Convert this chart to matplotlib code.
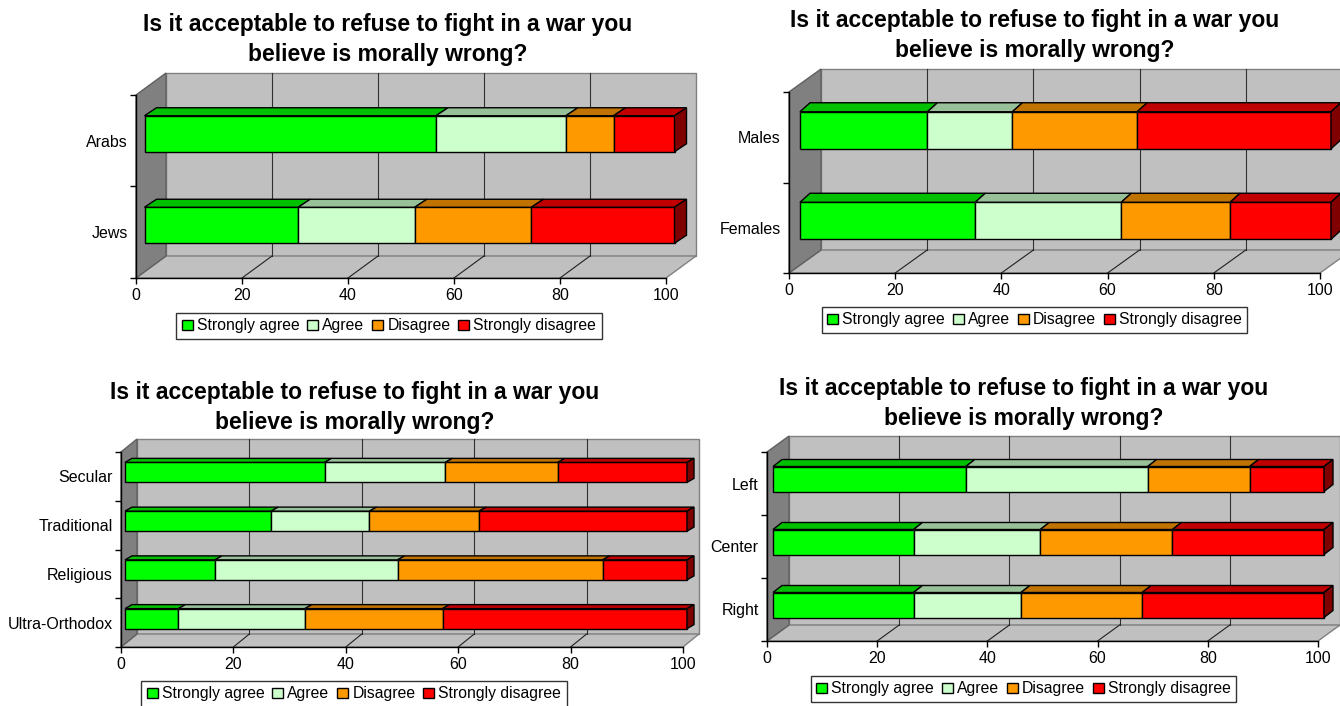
import numpy as np
import matplotlib
matplotlib.use("Agg")
import matplotlib.pyplot as plt
from matplotlib.patches import Polygon, Patch

plt.rcParams['font.family'] = ['Liberation Sans', 'DejaVu Sans']

W, H = 1340, 706

series_names = ["Strongly agree", "Agree", "Disagree", "Strongly disagree"]
front_colors = ["#00FF00", "#CCFFCC", "#FF9900", "#FF0000"]
top_colors = ["#00C000", "#99C199", "#C07300", "#C00000"]
end_color = "#800000"

title_line1 = "Is it acceptable to refuse to fight in a war you"
title_line2 = "believe is morally wrong?"
x_ticks = [0, 20, 40, 60, 80, 100]

# Arabs / Jews (percent)
ethnic_groups = ["Arabs", "Jews"]
ethnic_strongly_agree = [55, 29]
ethnic_agree = [24.5, 22]
ethnic_disagree = [9, 22]
ethnic_strongly_disagree = [11.5, 27]

# Males / Females (percent)
sex_groups = ["Males", "Females"]
sex_strongly_agree = [24, 33]
sex_agree = [16, 27.5]
sex_disagree = [23.5, 20.5]
sex_strongly_disagree = [36.5, 19]

# Religiosity (percent)
religion_groups = ["Secular", "Traditional", "Religious", "Ultra-Orthodox"]
religion_strongly_agree = [35.5, 26, 16, 9.5]
religion_agree = [21.5, 17.5, 32.5, 22.5]
religion_disagree = [20, 19.5, 36.5, 24.5]
religion_strongly_disagree = [23, 37, 15, 43.5]

# Political camp (percent)
politics_groups = ["Left", "Center", "Right"]
politics_strongly_agree = [35, 25.5, 25.5]
politics_agree = [33, 23, 19.5]
politics_disagree = [18.5, 24, 22]
politics_strongly_disagree = [13.5, 27.5, 33]

TITLE_SIZE = 16.5
LABEL_SIZE = 11.5
LEGEND_SIZE = 11.3

fig = plt.figure(figsize=(W / 100, H / 100), dpi=100)
fig.patch.set_facecolor("white")


def px_axes(left, top, right, bottom):
    return fig.add_axes([left / W, 1 - bottom / H, (right - left) / W, (bottom - top) / H])


def draw_panel(frame, wall, bar_shift, bar_depth, bar_px, groups, columns,
               title_x, title_ys, legend_anchor):
    left, top, right, bottom = frame
    ax = px_axes(*frame)
    n = len(groups)
    ux = (right - left) / 100.0
    uy = (bottom - top) / n
    Dx, Dy = wall[0] / ux, wall[1] / uy
    sx, sy = bar_shift[0] / ux, bar_shift[1] / uy
    bx, by = bar_depth[0] / ux, bar_depth[1] / uy
    h = bar_px / uy
    y0, y1 = -0.5, n - 0.5
    ax.set_xlim(0, 100)
    ax.set_ylim(y0, y1)
    ax.patch.set_visible(False)
    for s in ["top", "right"]:
        ax.spines[s].set_visible(False)
    for s in ["left", "bottom"]:
        ax.spines[s].set_linewidth(1.0)
        ax.spines[s].set_zorder(3)

    common = dict(closed=True, clip_on=False, lw=1.0)
    # back wall, floor and side wall
    ax.add_patch(Polygon([(Dx, y0 + Dy), (100 + Dx, y0 + Dy), (100 + Dx, y1 + Dy), (Dx, y1 + Dy)],
                         fc="#C0C0C0", ec="#808080", zorder=0.5, **common))
    ax.add_patch(Polygon([(0, y0), (100, y0), (100 + Dx, y0 + Dy), (Dx, y0 + Dy)],
                         fc="#C0C0C0", ec="#808080", zorder=0.6, **common))
    ax.add_patch(Polygon([(0, y0), (Dx, y0 + Dy), (Dx, y1 + Dy), (0, y1)],
                         fc="#808080", ec="#606060", zorder=0.7, **common))
    # gridlines on the wall and the floor
    for v in x_ticks[1:-1]:
        ax.plot([v + Dx, v + Dx], [y0 + Dy, y1 + Dy], color="#303030", lw=0.8,
                clip_on=False, zorder=0.8)
        ax.plot([v, v + Dx], [y0, y0 + Dy], color="#202020", lw=0.8,
                clip_on=False, zorder=0.8)

    # stacked 3D bars
    ypos = np.arange(n)[::-1].astype(float)
    vals = np.array(columns, dtype=float)
    lefts = np.vstack([np.zeros(n), np.cumsum(vals, axis=0)[:-1]])
    for k in range(len(vals)):
        ax.barh(ypos + sy, vals[k], left=lefts[k] + sx, height=h,
                color=front_colors[k], edgecolor="black", linewidth=1.0,
                clip_on=False, zorder=2)
        for j in range(n):
            x0 = lefts[k][j] + sx
            x1 = x0 + vals[k][j]
            yt = ypos[j] + sy + h / 2
            ax.add_patch(Polygon([(x0, yt), (x1, yt), (x1 + bx, yt + by), (x0 + bx, yt + by)],
                                 fc=top_colors[k], ec="black", zorder=2, **common))
    ends = lefts[-1] + vals[-1] + sx
    for j in range(n):
        yb = ypos[j] + sy - h / 2
        yt = ypos[j] + sy + h / 2
        ax.add_patch(Polygon([(ends[j], yb), (ends[j], yt), (ends[j] + bx, yt + by), (ends[j] + bx, yb + by)],
                             fc=end_color, ec="black", zorder=2, **common))

    # axes ticks and labels
    ax.set_yticks(ypos)
    ax.set_yticklabels(groups, fontsize=LABEL_SIZE)
    ax.set_yticks(np.arange(n + 1) - 0.5, minor=True)
    ax.tick_params(axis="y", which="major", length=0, pad=6)
    ax.tick_params(axis="y", which="minor", length=4, width=1, direction="out")
    ax.set_xticks(x_ticks)
    ax.tick_params(axis="x", length=4, width=1, direction="out", pad=3, labelsize=LABEL_SIZE)

    # title
    fig.text(title_x / W, 1 - title_ys[0] / H, title_line1, ha="center", va="center",
             fontsize=TITLE_SIZE, fontweight="bold")
    fig.text(title_x / W, 1 - title_ys[1] / H, title_line2, ha="center", va="center",
             fontsize=TITLE_SIZE, fontweight="bold")

    # legend
    handles = [Patch(facecolor=c, edgecolor="black", linewidth=1.0) for c in front_colors]
    leg = ax.legend(handles, series_names, loc="upper center",
                    bbox_to_anchor=(legend_anchor[0] / W, 1 - legend_anchor[1] / H),
                    bbox_transform=fig.transFigure, ncol=4, fontsize=LEGEND_SIZE,
                    frameon=True, fancybox=False, edgecolor="black",
                    handlelength=0.7, handleheight=0.7, handletextpad=0.25,
                    columnspacing=0.5, borderpad=0.35, borderaxespad=0)
    leg.get_frame().set_linewidth(1.0)
    return ax


draw_panel((136, 95, 666, 278), (30, 22), (8.5, 7), (12, 8), 36, ethnic_groups,
           [ethnic_strongly_agree, ethnic_agree, ethnic_disagree, ethnic_strongly_disagree],
           388, (25, 55), (389, 313))
draw_panel((789, 92, 1320, 273), (32, 23), (11, 7), (10, 9), 37, sex_groups,
           [sex_strongly_agree, sex_agree, sex_disagree, sex_strongly_disagree],
           1035, (20, 50), (1034.5, 307))
draw_panel((121, 452, 683, 647), (16, 13), (4, 4), (7, 4), 20, religion_groups,
           [religion_strongly_agree, religion_agree, religion_disagree, religion_strongly_disagree],
           355, (392, 422), (354, 681))
draw_panel((767, 452, 1318, 641), (22, 16), (6, 4.5), (9, 7), 25, politics_groups,
           [politics_strongly_agree, politics_agree, politics_disagree, politics_strongly_disagree],
           1024, (388, 418), (1023.5, 676))

fig.savefig("out.png", dpi=100, facecolor="white")
